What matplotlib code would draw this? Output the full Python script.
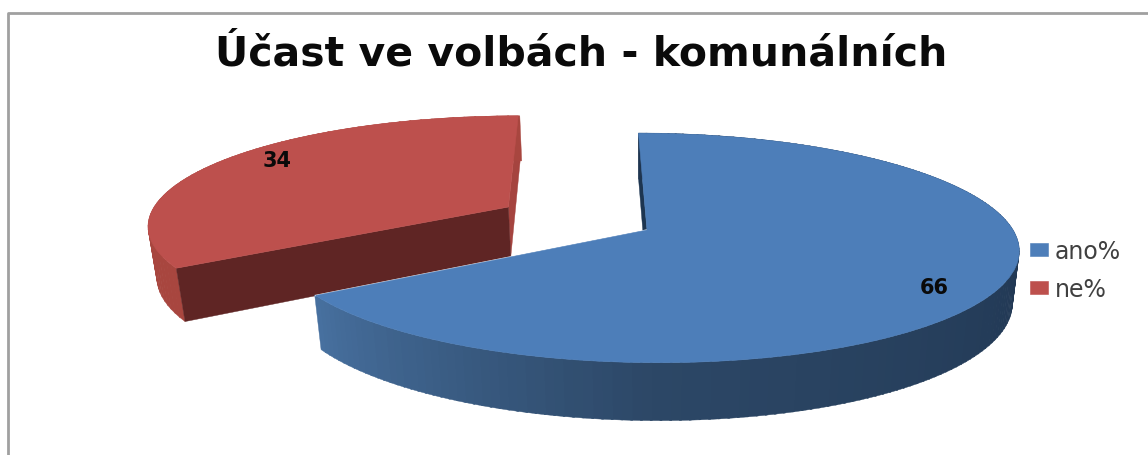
import numpy as np
import matplotlib
matplotlib.use('Agg')
from matplotlib import pyplot as plt
from matplotlib.colors import LinearSegmentedColormap
from matplotlib.lines import Line2D
from matplotlib.transforms import Transform

labels = ['ano%', 'ne%']
values = [66, 34]
title = 'Účast ve volbách - komunálních'

# fake 3D: pie lies flat in (u, v), z goes down through the thickness
kTilt = 0.156
kDepth = 0.018
shear = -0.027
thick = 0.467
explodeRed = 0.44

def project(u, v, z=0.0):
	w = 1 + kTilt * v + kDepth * z
	return (u + shear * v) / w, (v - thick * z) / w

class Flat3D(Transform):
	input_dims = 2
	output_dims = 2
	is_separable = False
	def transform_non_affine(self, values):
		x, y = project(values[:, 0], values[:, 1])
		return np.column_stack([x, y])

W, H = 1148, 456
cx, cy, rx, ry = 647, 231, 366, 112

fig = plt.figure(figsize=(W / 100, H / 100), dpi=100, facecolor='white')
ax = fig.add_axes([0, 0, 1, 1])
wedges, _ = ax.pie(values, explode=[0, explodeRed], startangle=90, counterclock=False,
	colors=['#4d7eb9', '#bd504d'], radius=1)
ax.set_aspect('auto')
ax.set_xlim(-cx / rx, (W - cx) / rx)
ax.set_ylim((cy - H) / ry, cy / ry)
ax.axis('off')

flat = Flat3D() + ax.transData
for w in wedges:
	w.set_transform(flat)
	w.set_edgecolor(w.get_facecolor())
	w.set_linewidth(0.4)

# angles clockwise from the top, from the values
split = 2 * np.pi * values[0] / sum(values)
bis = (split + 2 * np.pi) / 2
offU, offV = explodeRed * np.sin(bis), explodeRed * np.cos(bis)

def face(us, vs, color, zorder):
	us = np.asarray(us, dtype=float)
	vs = np.asarray(vs, dtype=float)
	x0, y0 = project(us, vs, 0.0)
	x1, y1 = project(us, vs, 1.0)
	ax.fill(np.r_[x0, x1[::-1]], np.r_[y0, y1[::-1]], color=color, lw=0.3, zorder=zorder)

def rim(start, stop, n, colorAt, zorder, du=0.0, dv=0.0):
	# one quad per step, a single polygon folds over itself at the silhouette
	edges = np.linspace(start, stop, n + 1)
	for a, b in zip(edges[:-1], edges[1:]):
		t = np.array([a, b + 0.005])
		face(du + np.sin(t), dv + np.cos(t), colorAt((a + b) / 2), zorder)

# red piece: side faces behind its top
wedges[1].set_zorder(3)
face([offU, offU], [offV, offV + 1], '#a5443f', 1)
face([offU, offU + np.sin(split)], [offV, offV + np.cos(split)], '#5f2524', 2)
rim(split, 2 * np.pi, 60, lambda a: '#a8463f', 1, offU, offV)

# blue piece: thin cut face and the shaded rim
wedges[0].set_zorder(7)
face([0, 0], [0, 1], '#1d3550', 4)
rimCmap = LinearSegmentedColormap.from_list('rim',
	[(0, '#1f3550'), (0.35, '#1f3550'), (0.76, '#2c4766'), (1, '#47709f')])
rim(0, split, 180, lambda a: rimCmap(a / split), 5)

# thin white gap where the blue cut edge passes over the red piece
gx, gy = project(np.array([0, np.sin(split)]), np.array([0, np.cos(split)]))
ax.plot(gx, gy, color='white', lw=1.0, zorder=6)

fig.text(581 / W, 1 - 66 / H, title, fontsize=29.5, fontweight='bold', color='#0a0a0a',
	ha='center', va='baseline')
fig.text(934 / W, 1 - 288 / H, str(values[0]), fontsize=15, fontweight='bold', color='#0a0a0a',
	ha='center', va='center')
fig.text(277 / W, 1 - 161 / H, str(values[1]), fontsize=15, fontweight='bold', color='#0a0a0a',
	ha='center', va='center')

fig.legend(wedges, labels, loc='center left', bbox_to_anchor=(1009 / W, 1 - 271 / H), frameon=False,
	fontsize=17, labelcolor='#404040', handlelength=0.75, handleheight=0.5,
	handletextpad=0.3, labelspacing=0.6)

# chart frame, only its top and left side are in the picture
fig.add_artist(Line2D([8 / W, 8 / W, 1], [0, 1 - 14 / H, 1 - 14 / H], color='#a0a0a0', lw=2))

fig.savefig('out.png', dpi=100)
